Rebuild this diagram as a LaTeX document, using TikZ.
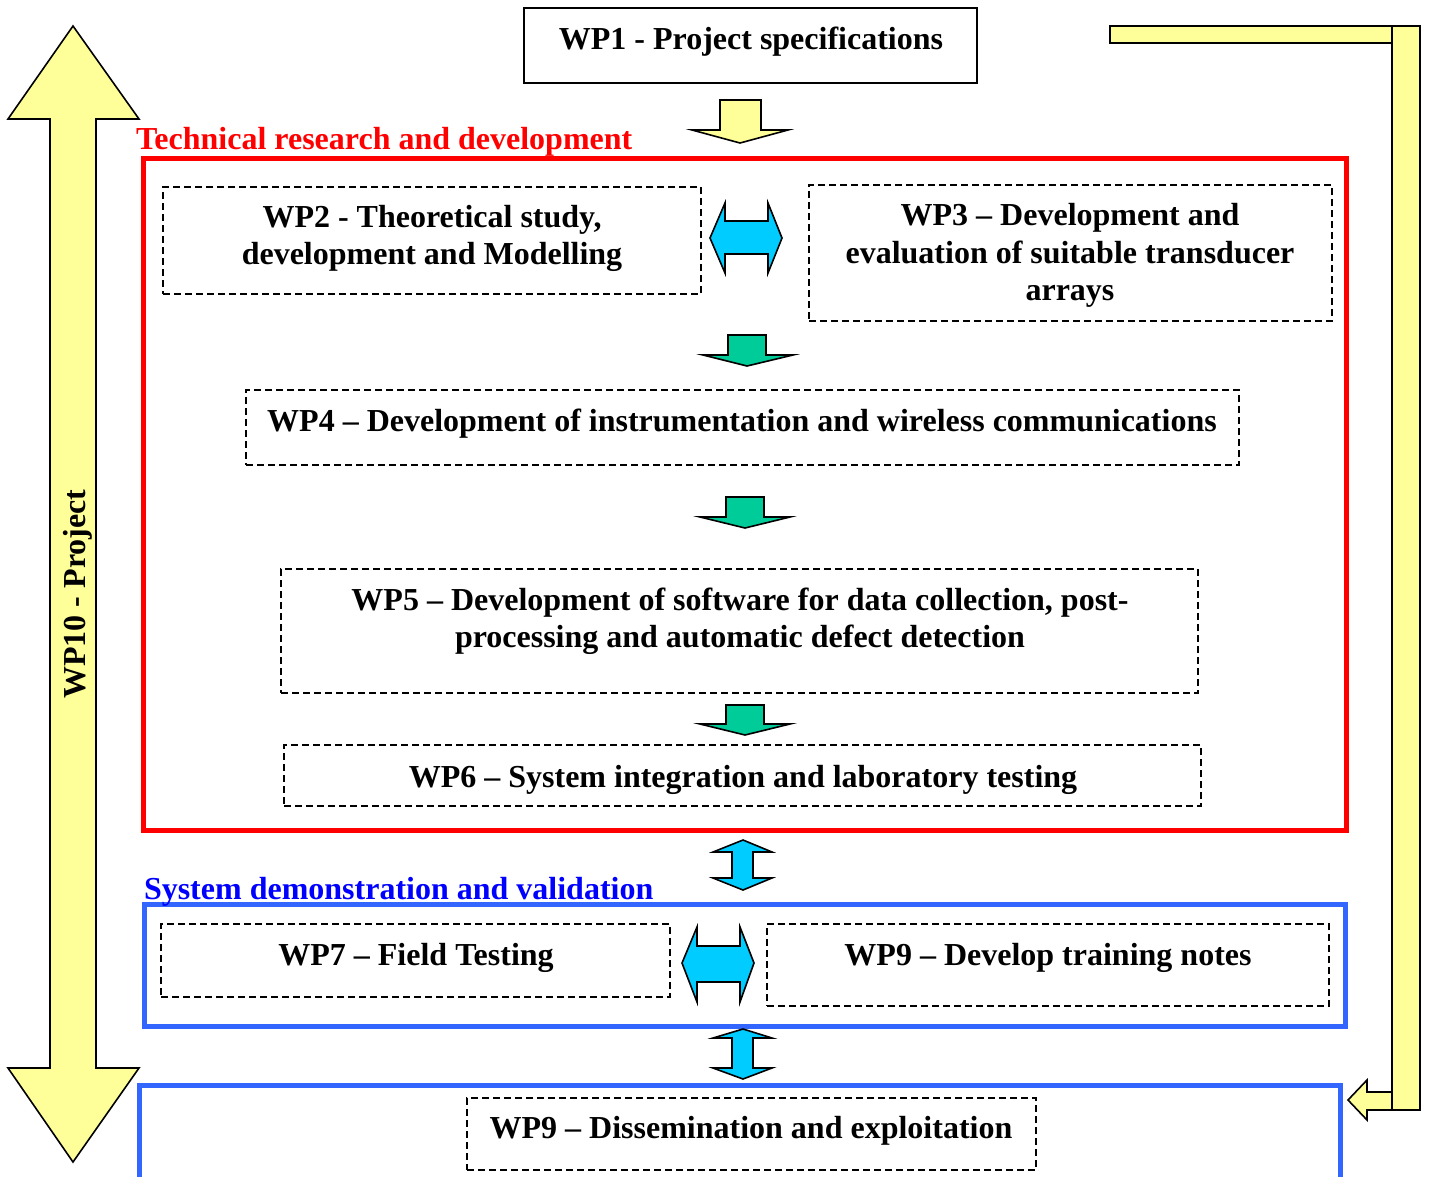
\documentclass[tikz,border=0pt]{standalone}
\usepackage{fontspec}
\setmainfont{Liberation Serif}
\definecolor{ylw}{RGB}{255,255,153}
\definecolor{cyn}{RGB}{0,204,255}
\definecolor{grn}{RGB}{0,204,153}
\definecolor{rd}{RGB}{255,0,0}
\definecolor{blu}{RGB}{51,102,255}
\definecolor{blutxt}{RGB}{0,0,255}
\begin{document}
\begin{tikzpicture}[x=1pt,y=-1pt,
  every node/.style={inner sep=0pt,outer sep=0pt},
  txt/.style={font=\fontsize{32}{37.5}\selectfont\bfseries,align=center},
  lbl/.style={font=\fontsize{32}{37.5}\selectfont\bfseries,anchor=base west},
  dbox/.style={draw=black,line width=1.6pt,dash pattern=on 7pt off 4pt},
  sbox/.style={draw=black,line width=1.5pt},
  frame/.style={line width=5pt},
  blk/.style={draw=black,line width=1.6pt,line join=miter},
]
\useasboundingbox (0,0) rectangle (1429,1176);
% frames
\node[draw=rd,frame,minimum width=1203,minimum height=672] (red) at (744.5,494) {};
\node[draw=blu,frame,minimum width=1201,minimum height=122] (blue1) at (744.5,965) {};
\node[draw=blu,frame,minimum width=1201,minimum height=105] (blue2) at (739.5,1137.5) {};
% boxes
\node[sbox,minimum width=453,minimum height=75] (wp1) at (750.5,45.5) {};
\node[dbox,minimum width=538,minimum height=107] (wp2) at (432,240.5) {};
\node[dbox,minimum width=523,minimum height=136] (wp3) at (1070.5,253) {};
\node[dbox,minimum width=993,minimum height=75] (wp4) at (742.5,427.5) {};
\node[dbox,minimum width=917,minimum height=124] (wp5) at (739.5,631) {};
\node[dbox,minimum width=917,minimum height=61] (wp6) at (742.5,775.5) {};
\node[dbox,minimum width=509,minimum height=73] (wp7) at (415.5,960.5) {};
\node[dbox,minimum width=562,minimum height=82] (wp9a) at (1048,965) {};
\node[dbox,minimum width=569,minimum height=72] (wp9b) at (751.5,1134) {};
% texts
\node[txt,anchor=base] (t1) at (751,49.5) {WP1 - Project specifications};
\node[lbl,text=rd] (tred) at (136,149.5) {Technical research and development};
\node[txt,anchor=base] (t2) at (432,264.5) {WP2 - Theoretical study,\\development and Modelling};
\node[txt,anchor=base] (t3) at (1070,300.5) {WP3 – Development and\\evaluation of suitable transducer\\arrays};
\node[txt,anchor=base] (t4) at (742,431.5) {WP4 – Development of instrumentation and wireless communications};
\node[txt,anchor=base] (t5) at (740,647.5) {WP5 – Development of software for data collection, post-\\processing and automatic defect detection};
\node[txt,anchor=base] (t6) at (743,787.5) {WP6 – System integration and laboratory testing};
\node[lbl,text=blutxt] (tblue) at (144,899.5) {System demonstration and validation};
\node[txt,anchor=base] (t7) at (416,965.5) {WP7 – Field Testing};
\node[txt,anchor=base] (t9a) at (1048,965.5) {WP9 – Develop training notes};
\node[txt,anchor=base] (t9b) at (751,1138.5) {WP9 – Dissemination and exploitation};
% left big double arrow
\draw[blk,fill=ylw] (73,26)--(139,119)--(96,119)--(96,1068)--(139,1068)--(73,1162)--(8,1068)--(50,1068)--(50,119)--(8,119)--cycle;
\node[txt,rotate=90] (t10) at (78,594) {WP10 - Project};
% right connector
\draw[blk,fill=ylw] (1110,26) rectangle (1392,43);
\draw[blk,fill=ylw] (1392,1092)--(1367,1092)--(1367,1080)--(1348,1100)--(1367,1120)--(1367,1110)--(1392,1110)--cycle;
\draw[blk,fill=ylw] (1392,26) rectangle (1420,1110);
% yellow down arrow
\draw[blk,fill=ylw] (720,100)--(761,100)--(761,130)--(788,130)--(740,143)--(692,130)--(720,130)--cycle;
% green arrows
\draw[blk,fill=grn] (728,335)--(766,335)--(766,355)--(793,355)--(747,366)--(703,355)--(728,355)--cycle;
\draw[blk,fill=grn] (726,497)--(764,497)--(764,517)--(790,517)--(745,528)--(700,517)--(726,517)--cycle;
\draw[blk,fill=grn] (726,705)--(764,705)--(764,724)--(790,724)--(745,735)--(700,724)--(726,724)--cycle;
% cyan double arrows
\draw[blk,fill=cyn] (710,238)--(725,203)--(725,221)--(768,221)--(768,203)--(782,238)--(768,273)--(768,254)--(725,254)--(725,273)--cycle;
\draw[blk,fill=cyn] (743,840)--(772,852)--(753,852)--(753,878)--(772,878)--(743,890)--(713,878)--(732,878)--(732,852)--(713,852)--cycle;
\draw[blk,fill=cyn] (682,963)--(697,927)--(697,946)--(740,946)--(740,927)--(754,963)--(740,1002)--(740,982)--(697,982)--(697,1002)--cycle;
\draw[blk,fill=cyn] (743,1029)--(772,1038)--(753,1038)--(753,1068)--(772,1068)--(743,1079)--(713,1068)--(732,1068)--(732,1038)--(713,1038)--cycle;
\end{tikzpicture}
\end{document}
